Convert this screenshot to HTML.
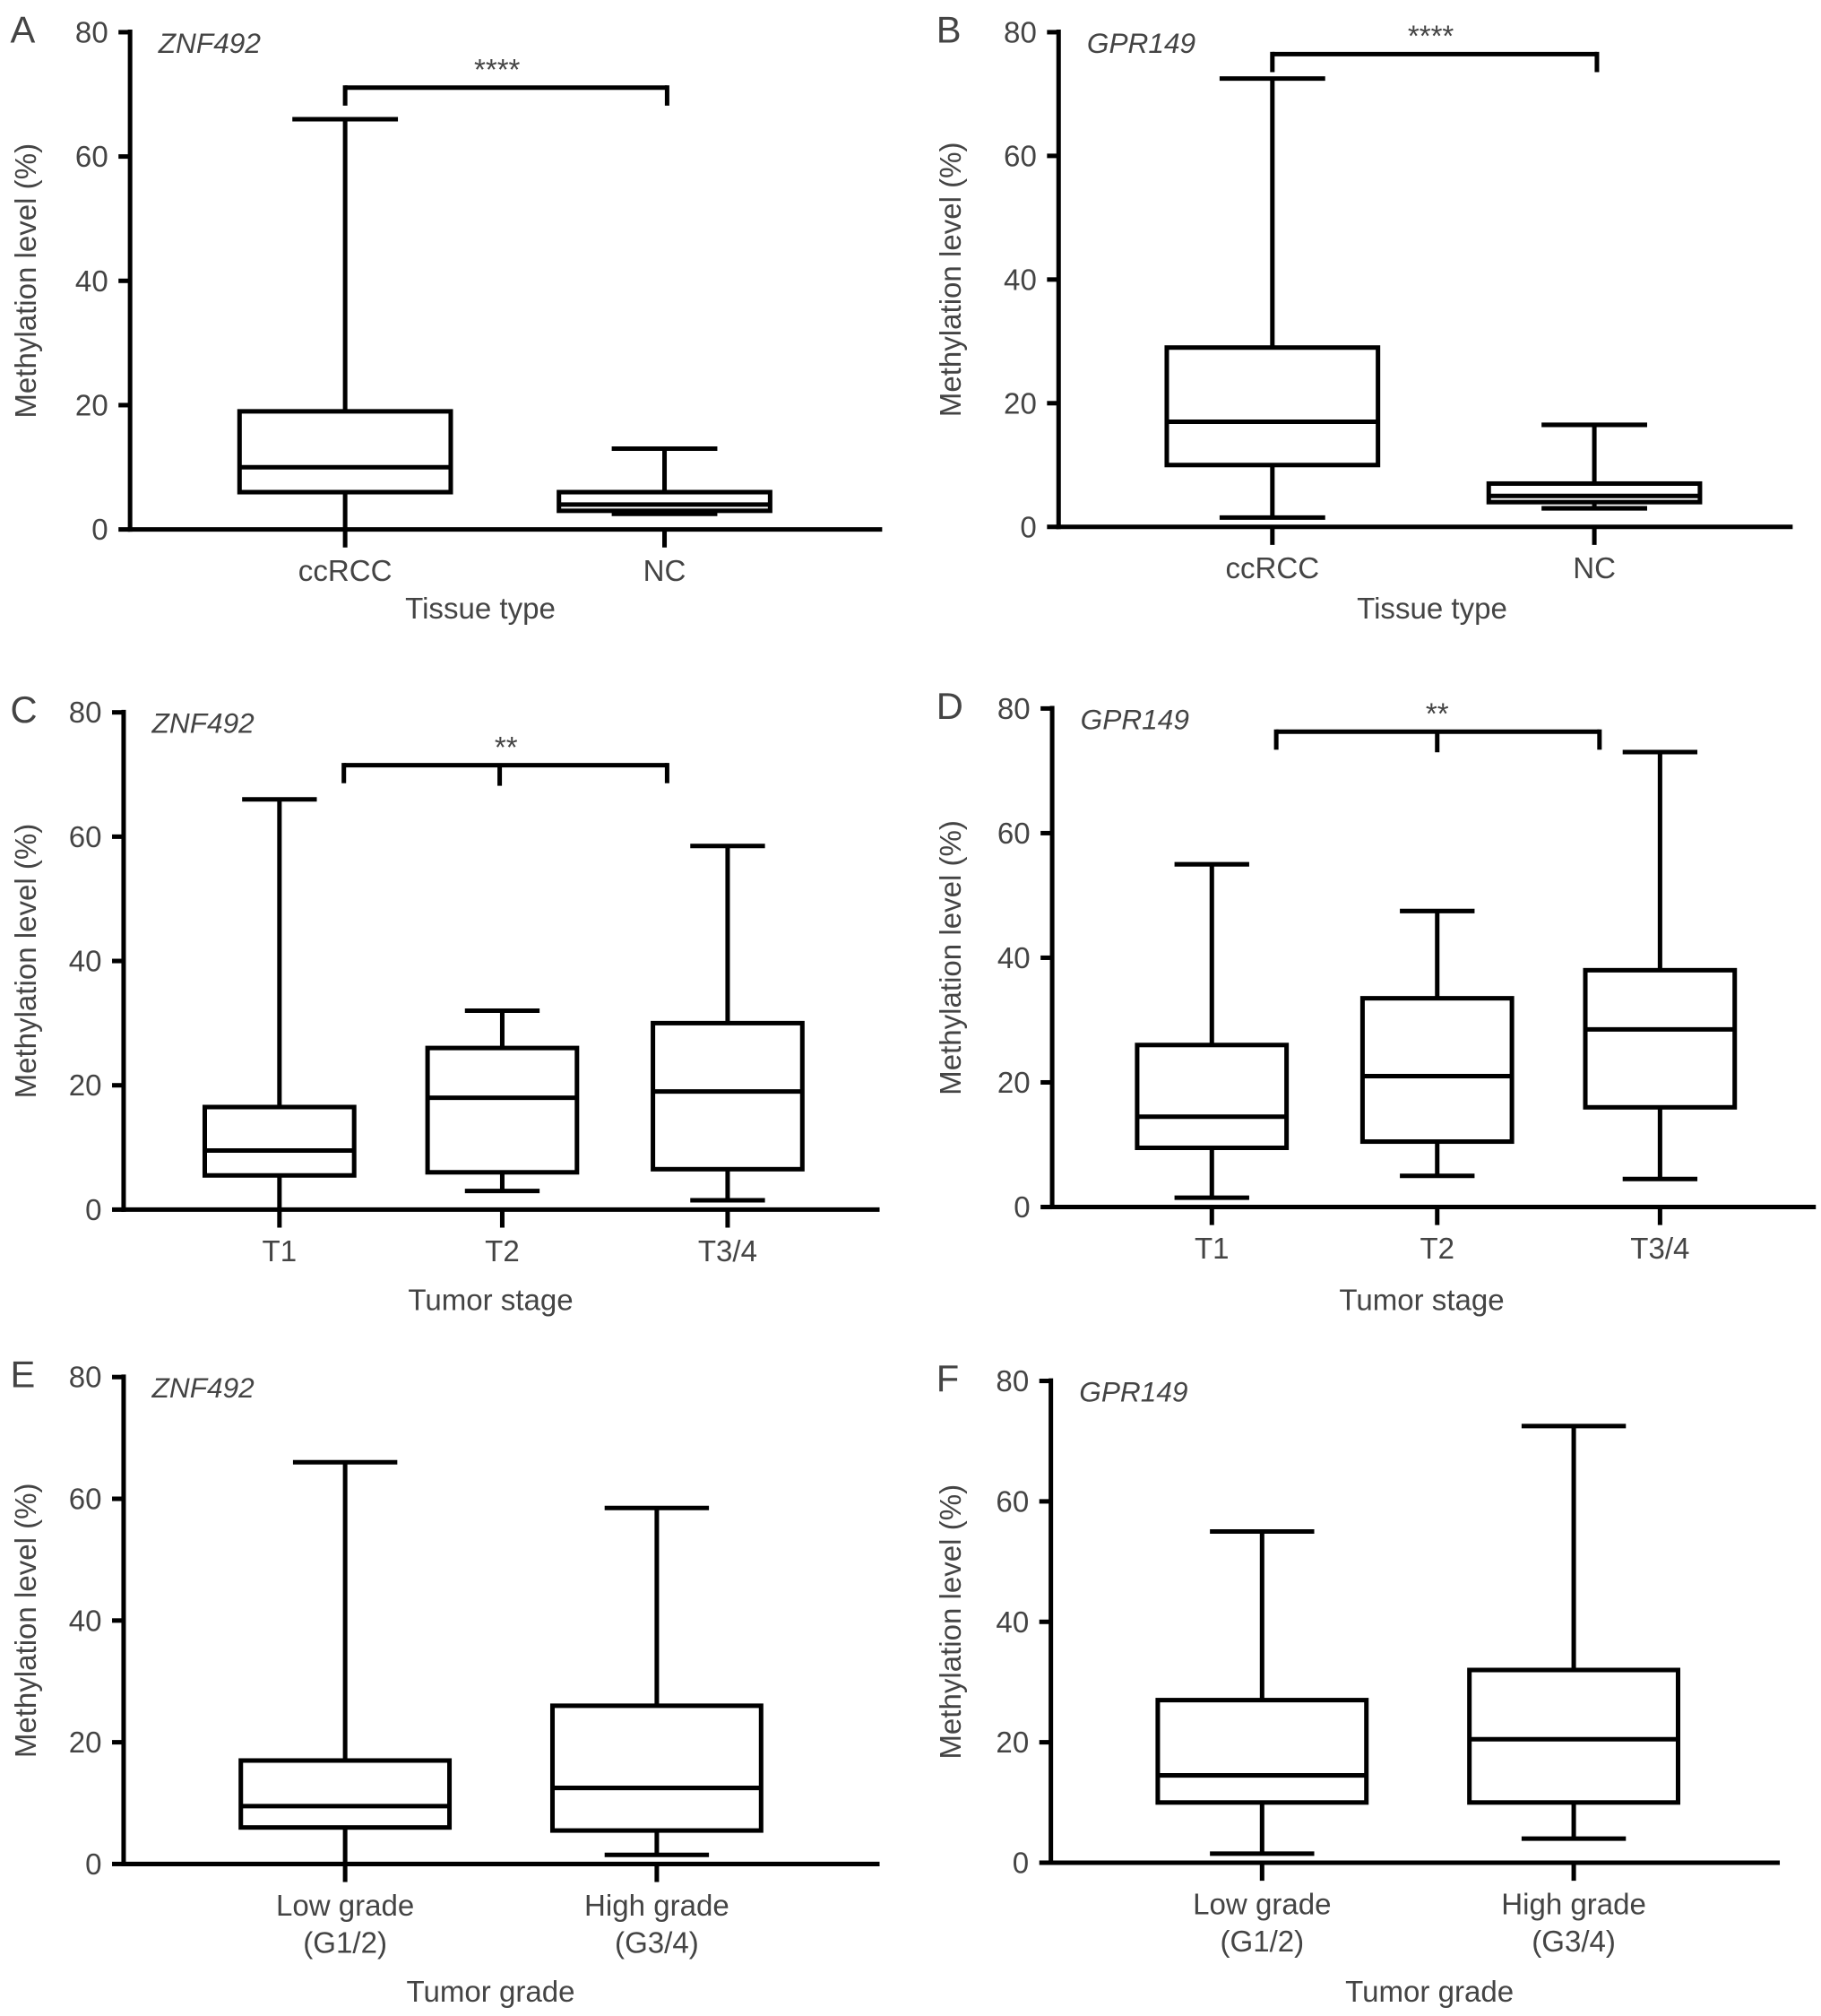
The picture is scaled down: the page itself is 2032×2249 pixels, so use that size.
<!DOCTYPE html>
<html><head><meta charset="utf-8"><style>
html,body{margin:0;padding:0;background:#fff}
svg{display:block}
text{font-family:"Liberation Sans",sans-serif;fill:#444}
</style></head><body>
<svg id="fig" width="2032" height="2249" viewBox="0 0 1414 1565" preserveAspectRatio="none" xmlns="http://www.w3.org/2000/svg"></svg>
<script>
// Panel A data
const catsA=["ccRCC","NC"];
const minA=[0,2.5],q1A=[6,3],medA=[10,4],q3A=[19,6],maxA=[66,13];
// Panel B data
const catsB=["ccRCC","NC"];
const minB=[1.5,3],q1B=[10,4],medB=[17,5],q3B=[29,7],maxB=[72.5,16.5];
// Panel C data
const catsC=["T1","T2","T3/4"];
const minC=[0,3,1.5],q1C=[5.5,6,6.5],medC=[9.5,18,19],q3C=[16.5,26,30],maxC=[66,32,58.5];
// Panel D data
const catsD=["T1","T2","T3/4"];
const minD=[1.5,5,4.5],q1D=[9.5,10.5,16],medD=[14.5,21,28.5],q3D=[26,33.5,38],maxD=[55,47.5,73];
// Panel E data
const catsE=["Low grade|(G1/2)","High grade|(G3/4)"];
const minE=[0,1.5],q1E=[6,5.5],medE=[9.5,12.5],q3E=[17,26],maxE=[66,58.5];
// Panel F data
const catsF=["Low grade|(G1/2)","High grade|(G3/4)"];
const minF=[1.5,4],q1F=[10,10],medF=[14.5,20.5],q3F=[27,32],maxF=[55,72.5];
const yTicks=[0,20,40,60,80];

const NS="http://www.w3.org/2000/svg";
const svg=document.getElementById('fig');
function el(tag,attrs,parent,txt){const e=document.createElementNS(NS,tag);for(const k in attrs)e.setAttribute(k,attrs[k]);if(txt!==undefined)e.textContent=txt;(parent||svg).appendChild(e);return e;}
function line(g,x1,y1,x2,y2,w){return el('line',{x1,y1,x2,y2,stroke:'#000','stroke-width':w||3.5},g);}

function panel(cfg){
  const g=el('g',{});
  
  
  const ys=v=>cfg.y0+(cfg.y80-cfg.y0)*v/80;
  const xs=i=>cfg.xc[i];
  const lt=el('text',{x:cfg.lx,y:cfg.y80+8,'font-size':29},g,cfg.letter);
  
  
  const ya=line(g,cfg.ax,cfg.y80-2,cfg.ax,cfg.y0+1.75);
  
  
  yTicks.forEach(t=>{
    line(g,cfg.ax-9,ys(t),cfg.ax,ys(t));
    const tl=el('text',{x:cfg.ax-17,y:ys(t)+8,'font-size':23,'text-anchor':'end'},g,t);
    
    
  });
  const xa=line(g,cfg.ax-1.75,cfg.y0,cfg.xend,cfg.y0);
  
  
  const cy=(cfg.y0+cfg.y80)/2;
  const yt=el('text',{x:0,y:0,'font-size':23,'text-anchor':'middle',transform:`translate(${cfg.ytx},${cy}) rotate(-90)`},g,'Methylation level (%)');
  
  
  const gl=el('text',{x:cfg.ax+22,y:cfg.y80+16,'font-size':22,'font-style':'italic'},g,cfg.gene);
  
  
  cfg.cats.forEach((c,i)=>{
    const x=xs(i),hw=cfg.hw,cw=cfg.hw*0.5;
    const bg=el('g',{},g);
    
    
    line(bg,x,cfg.y0,x,cfg.y0+14);
    line(bg,x,ys(cfg.mx[i]),x,ys(cfg.q3[i]));
    line(bg,x,ys(cfg.q1[i]),x,ys(cfg.mn[i]));
    line(bg,x-cw,ys(cfg.mx[i]),x+cw,ys(cfg.mx[i]));
    if(cfg.mn[i]>0.3)line(bg,x-cw,ys(cfg.mn[i]),x+cw,ys(cfg.mn[i]));
    el('rect',{x:x-hw,y:ys(cfg.q3[i]),width:2*hw,height:ys(cfg.q1[i])-ys(cfg.q3[i]),fill:'none',stroke:'#000','stroke-width':3.5},bg);
    line(bg,x-hw,ys(cfg.md[i]),x+hw,ys(cfg.md[i]));
    const parts=c.split('|');
    parts.forEach((p,k)=>{
      const cl=el('text',{x:x,y:cfg.y0+40+k*29,'font-size':23,'text-anchor':'middle'},g,p);
      
      
    });
  });
  const xt=el('text',{x:cfg.xtx,y:cfg.xty,'font-size':23,'text-anchor':'middle'},g,cfg.xtitle);
  
  
  if(cfg.br){
    const b=cfg.br;
    const bgp=el('g',{},g);
    
    
    line(bgp,b.x1,b.y,b.x2,b.y);
    line(bgp,b.x1,b.y-1.75,b.x1,b.y+14);
    line(bgp,b.x2,b.y-1.75,b.x2,b.y+14);
    if(b.mid)line(bgp,b.mid,b.y,b.mid,b.y+16);
    el('text',{x:b.sx,y:b.y-6,'font-size':23,'text-anchor':'middle'},bgp,b.s);
  }
}
panel({letter:'A',gene:'ZNF492',lx:8,ax:101,ytx:28,y0:411,y80:25,xend:685,cats:catsA,xc:[268,516],hw:82,
  mn:minA,q1:q1A,md:medA,q3:q3A,mx:maxA,xtitle:'Tissue type',xtx:373,xty:480,
  br:{x1:268,x2:518,y:68,s:'****',sx:386}});
panel({letter:'B',gene:'GPR149',lx:727,ax:822,ytx:746,y0:409,y80:25,xend:1392,cats:catsB,xc:[988,1238],hw:82,
  mn:minB,q1:q1B,md:medB,q3:q3B,mx:maxB,xtitle:'Tissue type',xtx:1112,xty:480,
  br:{x1:988,x2:1240,y:42,s:'****',sx:1111}});
panel({letter:'C',gene:'ZNF492',lx:8,ax:96,ytx:28,y0:939,y80:553,xend:683,cats:catsC,xc:[217,390,565],hw:58,
  mn:minC,q1:q1C,md:medC,q3:q3C,mx:maxC,xtitle:'Tumor stage',xtx:381,xty:1017,
  br:{x1:267,x2:518,mid:388,y:594,s:'**',sx:393}});
panel({letter:'D',gene:'GPR149',lx:727,ax:817,ytx:746,y0:937,y80:550,xend:1410,cats:catsD,xc:[941,1116,1289],hw:58,
  mn:minD,q1:q1D,md:medD,q3:q3D,mx:maxD,xtitle:'Tumor stage',xtx:1104,xty:1017,
  br:{x1:991,x2:1242,mid:1116,y:568,s:'**',sx:1116}});
panel({letter:'E',gene:'ZNF492',lx:8,ax:96,ytx:28,y0:1447,y80:1069,xend:683,cats:catsE,xc:[268,510],hw:81,
  mn:minE,q1:q1E,md:medE,q3:q3E,mx:maxE,xtitle:'Tumor grade',xtx:381,xty:1554});
panel({letter:'F',gene:'GPR149',lx:727,ax:816,ytx:746,y0:1446,y80:1072,xend:1382,cats:catsF,xc:[980,1222],hw:81,
  mn:minF,q1:q1F,md:medF,q3:q3F,mx:maxF,xtitle:'Tumor grade',xtx:1110,xty:1554});
</script>
</body></html>
